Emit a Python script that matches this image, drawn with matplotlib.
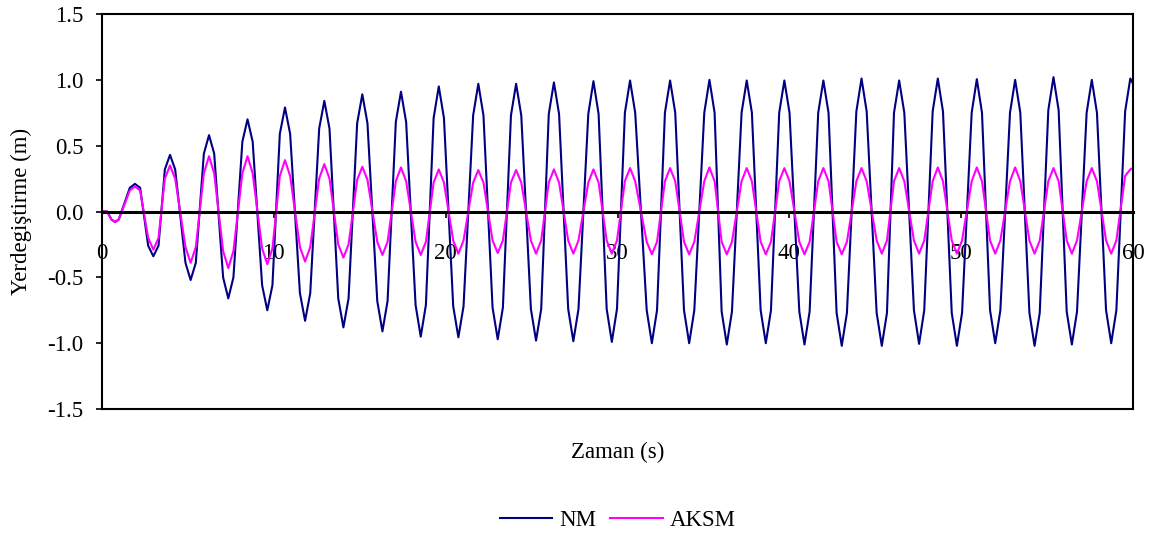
import matplotlib
matplotlib.use("Agg")
import matplotlib.pyplot as plt

plt.rcParams['font.family'] = ['Liberation Serif', 'DejaVu Serif']

# time samples (s): around every peak / trough
t = [0.0, 0.3,
     0.55, 0.76, 0.98,    1.62, 1.92, 2.22,    2.69, 2.99, 3.29,
     3.66, 3.96, 4.26,    4.86, 5.16, 5.46,    5.93, 6.23, 6.53,
     7.05, 7.35, 7.65,    8.17, 8.47, 8.77,    9.32, 9.62, 9.92,
     10.35, 10.65, 10.95, 11.52, 11.82, 12.12, 12.64, 12.94, 13.24,
     13.75, 14.05, 14.35, 14.85, 15.15, 15.45, 16.02, 16.32, 16.62,
     17.1, 17.4, 17.7,    18.25, 18.55, 18.85, 19.3, 19.6, 19.9,
     20.44, 20.74, 21.04, 21.6, 21.9, 22.2,    22.73, 23.03, 23.33,
     23.8, 24.1, 24.4,    24.96, 25.26, 25.56, 26.0, 26.3, 26.6,
     27.13, 27.43, 27.73, 28.3, 28.6, 28.9,    29.37, 29.67, 29.97,
     30.43, 30.73, 31.03, 31.7, 32.0, 32.3,    32.76, 33.06, 33.36,
     33.87, 34.17, 34.47, 35.05, 35.35, 35.65, 36.06, 36.36, 36.66,
     37.22, 37.52, 37.82, 38.33, 38.63, 38.93, 39.41, 39.71, 40.01,
     40.58, 40.88, 41.18, 41.68, 41.98, 42.28, 42.75, 43.05, 43.35,
     43.9, 44.2, 44.5,    45.08, 45.38, 45.68, 46.09, 46.39, 46.69,
     47.25, 47.55, 47.85, 48.34, 48.64, 48.94, 49.45, 49.75, 50.05,
     50.61, 50.91, 51.21, 51.68, 51.98, 52.28, 52.84, 53.14, 53.44,
     53.97, 54.27, 54.57, 55.07, 55.37, 55.67, 56.14, 56.44, 56.74,
     57.3, 57.6, 57.9,    58.43, 58.73, 59.03, 59.54, 59.84, 60.0]

# NM displacement (m)
nm = [0.0, 0.0,
      -0.06, -0.08, -0.06, 0.18, 0.21, 0.18,   -0.26, -0.34, -0.26,
      0.32, 0.43, 0.32,    -0.39, -0.52, -0.39, 0.44, 0.58, 0.44,
      -0.50, -0.66, -0.50, 0.53, 0.70, 0.53,    -0.56, -0.75, -0.56,
      0.59, 0.79, 0.59,    -0.62, -0.83, -0.62, 0.63, 0.84, 0.63,
      -0.66, -0.88, -0.66, 0.67, 0.89, 0.67,    -0.68, -0.91, -0.68,
      0.68, 0.91, 0.68,    -0.71, -0.95, -0.71, 0.71, 0.95, 0.71,
      -0.72, -0.955, -0.72, 0.73, 0.97, 0.73,   -0.73, -0.97, -0.73,
      0.73, 0.97, 0.73,    -0.74, -0.98, -0.74, 0.74, 0.98, 0.74,
      -0.74, -0.985, -0.74, 0.74, 0.99, 0.74,   -0.74, -0.99, -0.74,
      0.75, 0.995, 0.75,   -0.75, -1.0, -0.75,  0.75, 0.995, 0.75,
      -0.75, -1.0, -0.75,  0.75, 1.0, 0.75,     -0.76, -1.01, -0.76,
      0.75, 0.995, 0.75,   -0.75, -1.0, -0.75,  0.75, 0.995, 0.75,
      -0.76, -1.01, -0.76, 0.75, 0.995, 0.75,   -0.77, -1.02, -0.77,
      0.76, 1.01, 0.76,    -0.77, -1.02, -0.77, 0.75, 0.995, 0.75,
      -0.75, -1.005, -0.75, 0.76, 1.01, 0.76,   -0.77, -1.02, -0.77,
      0.75, 1.005, 0.75,   -0.75, -1.0, -0.75,  0.75, 1.0, 0.75,
      -0.77, -1.02, -0.77, 0.77, 1.02, 0.77,    -0.76, -1.01, -0.76,
      0.75, 1.0, 0.75,     -0.75, -1.0, -0.75,  0.76, 1.01, 0.97]

# AKSM displacement (m)
aksm = [0.0, 0.0,
        -0.06, -0.08, -0.06, 0.16, 0.19, 0.16,   -0.20, -0.29, -0.20,
        0.25, 0.35, 0.25,    -0.27, -0.39, -0.27, 0.29, 0.42, 0.29,
        -0.30, -0.43, -0.30, 0.29, 0.42, 0.29,    -0.28, -0.40, -0.28,
        0.27, 0.39, 0.27,    -0.27, -0.38, -0.27, 0.25, 0.36, 0.25,
        -0.25, -0.35, -0.25, 0.24, 0.34, 0.24,    -0.23, -0.33, -0.23,
        0.23, 0.335, 0.23,   -0.23, -0.33, -0.23, 0.22, 0.32, 0.22,
        -0.22, -0.32, -0.22, 0.22, 0.315, 0.22,   -0.22, -0.315, -0.22,
        0.22, 0.315, 0.22,   -0.22, -0.32, -0.22, 0.22, 0.32, 0.22,
        -0.22, -0.32, -0.22, 0.22, 0.32, 0.22,    -0.22, -0.32, -0.22,
        0.23, 0.33, 0.23,    -0.23, -0.325, -0.23, 0.23, 0.33, 0.23,
        -0.23, -0.325, -0.23, 0.23, 0.335, 0.23,  -0.23, -0.325, -0.23,
        0.23, 0.33, 0.23,    -0.23, -0.325, -0.23, 0.23, 0.33, 0.23,
        -0.23, -0.325, -0.23, 0.23, 0.33, 0.23,   -0.23, -0.325, -0.23,
        0.23, 0.33, 0.23,    -0.22, -0.32, -0.22, 0.23, 0.33, 0.23,
        -0.22, -0.32, -0.22, 0.23, 0.335, 0.23,   -0.22, -0.32, -0.22,
        0.23, 0.335, 0.23,   -0.22, -0.32, -0.22, 0.23, 0.335, 0.23,
        -0.22, -0.32, -0.22, 0.23, 0.33, 0.23,    -0.22, -0.32, -0.22,
        0.23, 0.33, 0.23,    -0.22, -0.32, -0.22, 0.27, 0.32, 0.33]

x_ticks = [0, 10, 20, 30, 40, 50, 60]
y_ticks = [-1.5, -1.0, -0.5, 0.0, 0.5, 1.0, 1.5]

fig = plt.figure(figsize=(11.64, 5.34), dpi=100)
ax = fig.add_axes([0.0876, 0.234, 0.8858, 0.7398])

ax.plot(t, nm, color='#000080', lw=1.5, label='NM')
ax.plot(t, aksm, color='#FF00FF', lw=1.5, label='AKSM')

ax.set_xlim(0, 60)
ax.set_ylim(-1.5, 1.5)
ax.set_xticks(x_ticks)
ax.set_yticks(y_ticks)
ax.set_yticklabels([f"{v:.1f}" for v in y_ticks])

# x axis crosses at zero, frame kept around the plot area
ax.spines['bottom'].set_position(('data', 0))
ax.spines['bottom'].set_linewidth(2.2)
for s in ['top', 'left', 'right']:
    ax.spines[s].set_linewidth(1.5)
ax.plot([0, 1], [0, 0], transform=ax.transAxes, color='black', lw=1.5, clip_on=False)

ax.tick_params(axis='x', direction='out', length=4.5, width=1.2, pad=18, labelsize=16.5)
ax.tick_params(axis='y', direction='out', length=4.5, width=1.2, pad=9, labelsize=16.5)

ax.set_ylabel('Yerdegiştirme (m)', fontsize=16.5, labelpad=11)
fig.text(0.5305, 0.152, 'Zaman (s)', ha='center', va='center', fontsize=16.5)

fig.legend(loc='center', bbox_to_anchor=(0.5305, 0.025), ncol=2, frameon=False,
           fontsize=16.5, handlelength=2.3, handletextpad=0.3, columnspacing=0.6)

fig.savefig('out.png', dpi=100)
